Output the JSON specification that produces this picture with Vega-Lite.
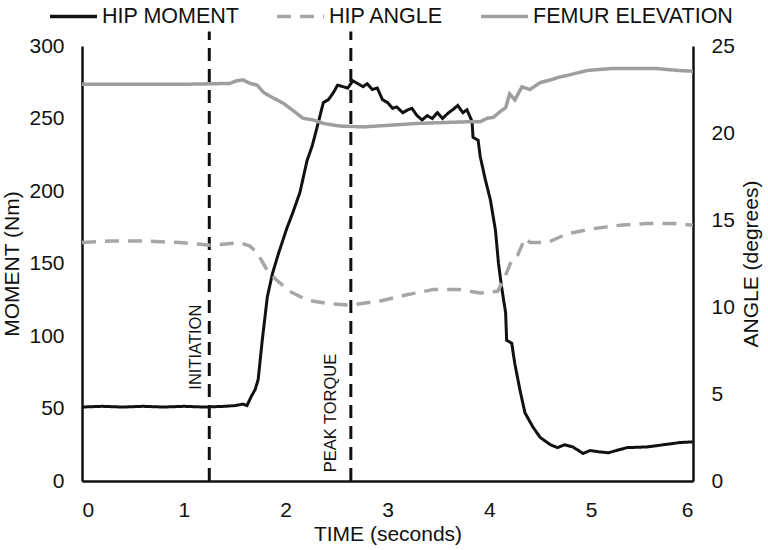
{
  "$schema": "https://vega.github.io/schema/vega-lite/v6.json",
  "width": 611,
  "height": 435,
  "autosize": {"type": "none"},
  "padding": {"left": 82, "top": 46, "right": 75, "bottom": 69},
  "background": "white",
  "config": {
    "view": {"stroke": null},
    "font": "Liberation Sans",
    "axis": {
      "domainColor": "#111",
      "domainWidth": 2.5,
      "ticks": false,
      "grid": false,
      "labelFont": "Liberation Sans",
      "labelFontSize": 21,
      "labelColor": "#111",
      "titleFont": "Liberation Sans",
      "titleFontSize": 21,
      "titleFontWeight": "normal",
      "titleColor": "#111",
      "labelPadding": 18
    },
    "legend": {
      "orient": "none",
      "legendX": -34,
      "legendY": -55,
      "direction": "horizontal",
      "symbolType": "stroke",
      "symbolSize": 2209,
      "symbolStrokeWidth": 3.5,
      "labelFont": "Liberation Sans",
      "labelFontSize": 21.5,
      "labelColor": "#111",
      "labelOffset": 3,
      "columnPadding": 30,
      "labelLimit": 400
    }
  },
  "datasets": {
    "lines": [
      {"series": "HIP MOMENT", "t": 0.0, "value": 51},
      {"series": "HIP MOMENT", "t": 0.2, "value": 51.5},
      {"series": "HIP MOMENT", "t": 0.4, "value": 51},
      {"series": "HIP MOMENT", "t": 0.6, "value": 51.5},
      {"series": "HIP MOMENT", "t": 0.8, "value": 51},
      {"series": "HIP MOMENT", "t": 1.0, "value": 51.5},
      {"series": "HIP MOMENT", "t": 1.2, "value": 51},
      {"series": "HIP MOMENT", "t": 1.4, "value": 51.5},
      {"series": "HIP MOMENT", "t": 1.5, "value": 52},
      {"series": "HIP MOMENT", "t": 1.58, "value": 53},
      {"series": "HIP MOMENT", "t": 1.62, "value": 52},
      {"series": "HIP MOMENT", "t": 1.66, "value": 58},
      {"series": "HIP MOMENT", "t": 1.7, "value": 63},
      {"series": "HIP MOMENT", "t": 1.73, "value": 70},
      {"series": "HIP MOMENT", "t": 1.77, "value": 97},
      {"series": "HIP MOMENT", "t": 1.82, "value": 127},
      {"series": "HIP MOMENT", "t": 1.87, "value": 143},
      {"series": "HIP MOMENT", "t": 1.93, "value": 157},
      {"series": "HIP MOMENT", "t": 2.01, "value": 174},
      {"series": "HIP MOMENT", "t": 2.07, "value": 185},
      {"series": "HIP MOMENT", "t": 2.14, "value": 199},
      {"series": "HIP MOMENT", "t": 2.21, "value": 221},
      {"series": "HIP MOMENT", "t": 2.26, "value": 231},
      {"series": "HIP MOMENT", "t": 2.32, "value": 247},
      {"series": "HIP MOMENT", "t": 2.37, "value": 261},
      {"series": "HIP MOMENT", "t": 2.42, "value": 263},
      {"series": "HIP MOMENT", "t": 2.47, "value": 268},
      {"series": "HIP MOMENT", "t": 2.51, "value": 273},
      {"series": "HIP MOMENT", "t": 2.56, "value": 272},
      {"series": "HIP MOMENT", "t": 2.61, "value": 271},
      {"series": "HIP MOMENT", "t": 2.66, "value": 276},
      {"series": "HIP MOMENT", "t": 2.71, "value": 274},
      {"series": "HIP MOMENT", "t": 2.76, "value": 272},
      {"series": "HIP MOMENT", "t": 2.8, "value": 274},
      {"series": "HIP MOMENT", "t": 2.85, "value": 270},
      {"series": "HIP MOMENT", "t": 2.9, "value": 271},
      {"series": "HIP MOMENT", "t": 2.95, "value": 263},
      {"series": "HIP MOMENT", "t": 3.0, "value": 261},
      {"series": "HIP MOMENT", "t": 3.05, "value": 257},
      {"series": "HIP MOMENT", "t": 3.09, "value": 258},
      {"series": "HIP MOMENT", "t": 3.15, "value": 254},
      {"series": "HIP MOMENT", "t": 3.2, "value": 256},
      {"series": "HIP MOMENT", "t": 3.24, "value": 257},
      {"series": "HIP MOMENT", "t": 3.29, "value": 252},
      {"series": "HIP MOMENT", "t": 3.34, "value": 249},
      {"series": "HIP MOMENT", "t": 3.39, "value": 252},
      {"series": "HIP MOMENT", "t": 3.44, "value": 250},
      {"series": "HIP MOMENT", "t": 3.49, "value": 254},
      {"series": "HIP MOMENT", "t": 3.54, "value": 250},
      {"series": "HIP MOMENT", "t": 3.6, "value": 254},
      {"series": "HIP MOMENT", "t": 3.64, "value": 256},
      {"series": "HIP MOMENT", "t": 3.69, "value": 259},
      {"series": "HIP MOMENT", "t": 3.74, "value": 254},
      {"series": "HIP MOMENT", "t": 3.78, "value": 256},
      {"series": "HIP MOMENT", "t": 3.83, "value": 248},
      {"series": "HIP MOMENT", "t": 3.84, "value": 237},
      {"series": "HIP MOMENT", "t": 3.89, "value": 235},
      {"series": "HIP MOMENT", "t": 3.91, "value": 224},
      {"series": "HIP MOMENT", "t": 3.96, "value": 208},
      {"series": "HIP MOMENT", "t": 4.01, "value": 194},
      {"series": "HIP MOMENT", "t": 4.06, "value": 173},
      {"series": "HIP MOMENT", "t": 4.09, "value": 150},
      {"series": "HIP MOMENT", "t": 4.12, "value": 134},
      {"series": "HIP MOMENT", "t": 4.16, "value": 116},
      {"series": "HIP MOMENT", "t": 4.17, "value": 97},
      {"series": "HIP MOMENT", "t": 4.22, "value": 95},
      {"series": "HIP MOMENT", "t": 4.25, "value": 81},
      {"series": "HIP MOMENT", "t": 4.3, "value": 63},
      {"series": "HIP MOMENT", "t": 4.35, "value": 47},
      {"series": "HIP MOMENT", "t": 4.43, "value": 37},
      {"series": "HIP MOMENT", "t": 4.5, "value": 30},
      {"series": "HIP MOMENT", "t": 4.6, "value": 25},
      {"series": "HIP MOMENT", "t": 4.67, "value": 23},
      {"series": "HIP MOMENT", "t": 4.74, "value": 25},
      {"series": "HIP MOMENT", "t": 4.82, "value": 23.5},
      {"series": "HIP MOMENT", "t": 4.92, "value": 19},
      {"series": "HIP MOMENT", "t": 4.99, "value": 21},
      {"series": "HIP MOMENT", "t": 5.09, "value": 20},
      {"series": "HIP MOMENT", "t": 5.17, "value": 19.5},
      {"series": "HIP MOMENT", "t": 5.35, "value": 23},
      {"series": "HIP MOMENT", "t": 5.55, "value": 23.5},
      {"series": "HIP MOMENT", "t": 5.71, "value": 25},
      {"series": "HIP MOMENT", "t": 5.87, "value": 26.5},
      {"series": "HIP MOMENT", "t": 6.0, "value": 27},

      {"series": "HIP ANGLE", "t": 0.0, "value": 13.7},
      {"series": "HIP ANGLE", "t": 0.3, "value": 13.8},
      {"series": "HIP ANGLE", "t": 0.6, "value": 13.8},
      {"series": "HIP ANGLE", "t": 0.96, "value": 13.7},
      {"series": "HIP ANGLE", "t": 1.26, "value": 13.55},
      {"series": "HIP ANGLE", "t": 1.55, "value": 13.7},
      {"series": "HIP ANGLE", "t": 1.65, "value": 13.5},
      {"series": "HIP ANGLE", "t": 1.72, "value": 13.1},
      {"series": "HIP ANGLE", "t": 1.82, "value": 12.1},
      {"series": "HIP ANGLE", "t": 1.91, "value": 11.55},
      {"series": "HIP ANGLE", "t": 2.04, "value": 10.9},
      {"series": "HIP ANGLE", "t": 2.21, "value": 10.4},
      {"series": "HIP ANGLE", "t": 2.41, "value": 10.2},
      {"series": "HIP ANGLE", "t": 2.63, "value": 10.1},
      {"series": "HIP ANGLE", "t": 2.93, "value": 10.35},
      {"series": "HIP ANGLE", "t": 3.19, "value": 10.7},
      {"series": "HIP ANGLE", "t": 3.45, "value": 11.0},
      {"series": "HIP ANGLE", "t": 3.71, "value": 11.0},
      {"series": "HIP ANGLE", "t": 3.91, "value": 10.8},
      {"series": "HIP ANGLE", "t": 4.08, "value": 10.9},
      {"series": "HIP ANGLE", "t": 4.14, "value": 11.55},
      {"series": "HIP ANGLE", "t": 4.22, "value": 12.7},
      {"series": "HIP ANGLE", "t": 4.28, "value": 13.0},
      {"series": "HIP ANGLE", "t": 4.35, "value": 13.95},
      {"series": "HIP ANGLE", "t": 4.4, "value": 13.7},
      {"series": "HIP ANGLE", "t": 4.57, "value": 13.7},
      {"series": "HIP ANGLE", "t": 4.76, "value": 14.2},
      {"series": "HIP ANGLE", "t": 5.02, "value": 14.5},
      {"series": "HIP ANGLE", "t": 5.28, "value": 14.7},
      {"series": "HIP ANGLE", "t": 5.55, "value": 14.8},
      {"series": "HIP ANGLE", "t": 5.81, "value": 14.8},
      {"series": "HIP ANGLE", "t": 6.0, "value": 14.7},

      {"series": "FEMUR ELEVATION", "t": 0.0, "value": 22.8},
      {"series": "FEMUR ELEVATION", "t": 0.5, "value": 22.8},
      {"series": "FEMUR ELEVATION", "t": 1.0, "value": 22.8},
      {"series": "FEMUR ELEVATION", "t": 1.45, "value": 22.85},
      {"series": "FEMUR ELEVATION", "t": 1.52, "value": 23.0},
      {"series": "FEMUR ELEVATION", "t": 1.58, "value": 23.05},
      {"series": "FEMUR ELEVATION", "t": 1.65, "value": 22.85},
      {"series": "FEMUR ELEVATION", "t": 1.72, "value": 22.75},
      {"series": "FEMUR ELEVATION", "t": 1.78, "value": 22.35},
      {"series": "FEMUR ELEVATION", "t": 1.85, "value": 22.1},
      {"series": "FEMUR ELEVATION", "t": 1.98, "value": 21.7},
      {"series": "FEMUR ELEVATION", "t": 2.07, "value": 21.3},
      {"series": "FEMUR ELEVATION", "t": 2.17, "value": 20.85},
      {"series": "FEMUR ELEVATION", "t": 2.27, "value": 20.75},
      {"series": "FEMUR ELEVATION", "t": 2.37, "value": 20.55},
      {"series": "FEMUR ELEVATION", "t": 2.53, "value": 20.4},
      {"series": "FEMUR ELEVATION", "t": 2.76, "value": 20.35},
      {"series": "FEMUR ELEVATION", "t": 3.03, "value": 20.45},
      {"series": "FEMUR ELEVATION", "t": 3.29, "value": 20.55},
      {"series": "FEMUR ELEVATION", "t": 3.55, "value": 20.6},
      {"series": "FEMUR ELEVATION", "t": 3.81, "value": 20.65},
      {"series": "FEMUR ELEVATION", "t": 3.91, "value": 20.65},
      {"series": "FEMUR ELEVATION", "t": 3.98, "value": 20.85},
      {"series": "FEMUR ELEVATION", "t": 4.04, "value": 20.9},
      {"series": "FEMUR ELEVATION", "t": 4.11, "value": 21.25},
      {"series": "FEMUR ELEVATION", "t": 4.16, "value": 21.45},
      {"series": "FEMUR ELEVATION", "t": 4.2, "value": 22.25},
      {"series": "FEMUR ELEVATION", "t": 4.25, "value": 21.9},
      {"series": "FEMUR ELEVATION", "t": 4.32, "value": 22.65},
      {"series": "FEMUR ELEVATION", "t": 4.4, "value": 22.5},
      {"series": "FEMUR ELEVATION", "t": 4.5, "value": 22.9},
      {"series": "FEMUR ELEVATION", "t": 4.6, "value": 23.05},
      {"series": "FEMUR ELEVATION", "t": 4.68, "value": 23.2},
      {"series": "FEMUR ELEVATION", "t": 4.76, "value": 23.3},
      {"series": "FEMUR ELEVATION", "t": 4.86, "value": 23.45},
      {"series": "FEMUR ELEVATION", "t": 4.97, "value": 23.6},
      {"series": "FEMUR ELEVATION", "t": 5.19, "value": 23.7},
      {"series": "FEMUR ELEVATION", "t": 5.45, "value": 23.7},
      {"series": "FEMUR ELEVATION", "t": 5.65, "value": 23.7},
      {"series": "FEMUR ELEVATION", "t": 5.84, "value": 23.6},
      {"series": "FEMUR ELEVATION", "t": 6.0, "value": 23.55}
    ],
    "events": [
      {"label": "INITIATION", "t": 1.25, "labelT": 1.12, "labelMoment": 63},
      {"label": "PEAK TORQUE", "t": 2.64, "labelT": 2.45, "labelMoment": 6}
    ]
  },
  "layer": [
    {
      "layer": [
        {
          "data": {"name": "lines"},
          "transform": [{"filter": "datum.series === 'HIP MOMENT'"}],
          "mark": {"type": "line", "strokeWidth": 3},
          "encoding": {
            "x": {"field": "t", "type": "quantitative", "scale": {"domain": [0, 6], "nice": false}, "axis": {"values": [0, 1, 2, 3, 4, 5, 6], "format": "d", "title": "TIME (seconds)", "titlePadding": 3}},
            "y": {"field": "value", "type": "quantitative", "scale": {"domain": [0, 300], "nice": false}, "axis": {"values": [0, 50, 100, 150, 200, 250, 300], "title": "MOMENT (Nm)", "titlePadding": 6}},
            "color": {"field": "series", "type": "nominal", "scale": {"domain": ["HIP MOMENT", "HIP ANGLE", "FEMUR ELEVATION"], "range": ["#111111", "#a6a6a6", "#9e9e9e"]}, "legend": {"title": null}},
            "strokeDash": {"field": "series", "type": "nominal", "scale": {"domain": ["HIP MOMENT", "HIP ANGLE", "FEMUR ELEVATION"], "range": [[1, 0], [14, 9], [1, 0]]}, "legend": {"title": null}}
          }
        },
        {
          "data": {"name": "events"},
          "mark": {"type": "rule", "strokeWidth": 3, "strokeDash": [13, 8], "color": "#111111"},
          "encoding": {
            "x": {"field": "t", "type": "quantitative", "title": "TIME (seconds)"},
            "y": {"datum": 0, "type": "quantitative"},
            "y2": {"datum": 310}
          }
        },
        {
          "data": {"name": "events"},
          "mark": {"type": "text", "angle": 270, "align": "left", "baseline": "middle", "font": "Liberation Sans", "fontSize": 16.5, "color": "#111111"},
          "encoding": {
            "x": {"field": "labelT", "type": "quantitative", "title": "TIME (seconds)"},
            "y": {"field": "labelMoment", "type": "quantitative", "title": "MOMENT (Nm)"},
            "text": {"field": "label"}
          }
        }
      ]
    },
    {
      "data": {"name": "lines"},
      "transform": [{"filter": "datum.series !== 'HIP MOMENT'"}],
      "mark": {"type": "line", "strokeWidth": 3.5},
      "encoding": {
        "x": {"field": "t", "type": "quantitative", "title": "TIME (seconds)"},
        "y": {"field": "value", "type": "quantitative", "scale": {"domain": [0, 25], "nice": false}, "axis": {"orient": "right", "values": [0, 5, 10, 15, 20, 25], "title": "ANGLE (degrees)", "titleAngle": 270, "titleBaseline": "top", "titlePadding": 6}},
        "color": {"field": "series", "type": "nominal", "scale": {"domain": ["HIP MOMENT", "HIP ANGLE", "FEMUR ELEVATION"], "range": ["#111111", "#a6a6a6", "#9e9e9e"]}, "legend": {"title": null}},
        "strokeDash": {"field": "series", "type": "nominal", "scale": {"domain": ["HIP MOMENT", "HIP ANGLE", "FEMUR ELEVATION"], "range": [[1, 0], [14, 9], [1, 0]]}, "legend": {"title": null}}
      }
    }
  ],
  "resolve": {"scale": {"y": "independent"}}
}
